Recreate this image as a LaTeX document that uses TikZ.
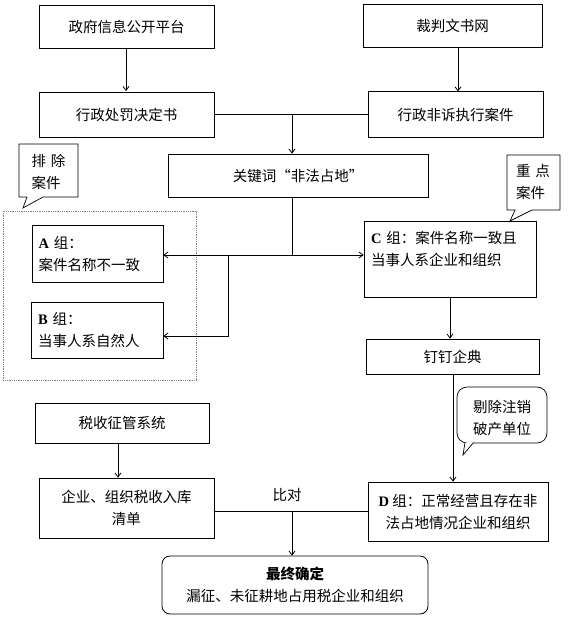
\documentclass[tikz,border=0pt]{standalone}
\usepackage{fontspec}
\setmainfont{Noto Sans CJK SC}
\newfontfamily\latf{Liberation Serif}
\usetikzlibrary{arrows.meta}
\begin{document}
\begin{tikzpicture}[x=1pt,y=-1pt,
  every node/.style={font=\fontsize{14.5}{22}\selectfont},
  box/.style={draw, line width=0.8pt, inner sep=0pt},
  lbox/.style={box, align=left},
  ln/.style={line width=0.8pt},
  arr/.style={line width=0.8pt, -{Straight Barb[length=4pt,width=6pt]}},
  callout/.style={draw, line width=0.7pt, fill=white},
  txt/.style={inner sep=0pt, align=left}]
\useasboundingbox (0,0) rectangle (568,619);

% top row
\node[box, minimum width=175pt, minimum height=43pt] (gov) at (126.5,26.5) {政府信息公开平台};
\node[box, minimum width=179pt, minimum height=43pt] (court) at (452.5,25.5) {裁判文书网};
\node[box, minimum width=175pt, minimum height=45pt] (pen) at (126.5,114.5) {行政处罚决定书};
\node[box, minimum width=175pt, minimum height=46pt] (nonlit) at (455.5,114.5) {行政非诉执行案件};
\node[box, minimum width=260pt, minimum height=43pt] (key) at (298,175.5) {关键词“非法占地”};

% excluded group
\draw[gray, densely dotted, line width=0.8pt] (3,211) rectangle (196,380);
\node[lbox, minimum width=131pt, minimum height=57pt, text width=118pt] (A) at (97.5,253.5) {{\latf\bfseries A} 组：\\案件名称不一致};
\node[lbox, minimum width=132pt, minimum height=56pt, text width=118pt] (B) at (97,330) {{\latf\bfseries B} 组：\\当事人系自然人};

% group C
\node[lbox, minimum width=172pt, minimum height=76pt, text width=158pt] (C) at (450,259) {{\latf\bfseries C} 组：案件名称一致且\\当事人系企业和组织\\~};
\node[box, minimum width=173pt, minimum height=35pt] (ding) at (452.5,356.5) {钉钉企典};
\node[box, align=center, minimum width=180pt, minimum height=59pt] (D) at (458,511.5) {{\latf\bfseries D} 组：正常经营且存在非\\法占地情况企业和组织};

% tax
\node[box, minimum width=174pt, minimum height=40pt] (tax) at (122,423) {税收征管系统};
\node[box, align=center, minimum width=175pt, minimum height=60pt] (list) at (126.5,508) {企业、组织税收入库\\清单};

% final
\node[box, rounded corners=8pt, align=center, minimum width=266pt, minimum height=58pt] (final) at (295,585) {{\bfseries 最终确定}\\漏征、未征耕地占用税企业和组织};

% callouts
\draw[callout] (19,144) -- (78,144) -- (78,197) -- (43,197) -- (23,208) -- (27,197) -- (19,197) -- cycle;
\node[txt] (ex) at (48.5,172) {排\,\,除\\案件};
\draw[callout] (507,155) -- (560,155) -- (560,210) -- (532,210) -- (510,221) -- (515,210) -- (507,210) -- cycle;
\node[txt] (keyc) at (533,182) {重\,\,点\\案件};
\draw[callout, rounded corners=10pt] (473,443) -- (547,443) -- (547,387) -- (457,387) -- (457,443) -- (465.5,443);
\draw[callout] (465,442.6) -- (463,455) -- (473.5,442.6);
\node[txt] (rm) at (502,418) {剔除注销\\破产单位};

% connectors
\draw[arr] (gov.south -| 126,0) -- (126,91);
\draw[arr] (458,47) -- (458,91.5);
\coordinate (j1) at (292,114.5);
\draw[ln] (pen.east) -- (nonlit.west);
\draw[arr] (j1) -- (j1 |- key.north);
\coordinate (j2) at (292,255);
\coordinate (j3) at (228,255);
\coordinate (j4) at (228,336);
\draw[ln] (j1 |- key.south) -- (j2);
\draw[arr] (j2) -- (j2 -| C.west);
\draw[arr] (j2) -- (j2 -| A.east);
\draw[arr] (j3) -- (j4) -- (j4 -| B.east);
\draw[arr] (C.south) -- (C.south |- ding.north);
\coordinate (j5) at (453,374);
\draw[arr] (j5) -- (j5 |- D.north);
\coordinate (j6) at (118,443);
\draw[arr] (j6) -- (j6 |- list.north);
\coordinate (j7) at (292,511.5);
\draw[ln] (list.east |- j7) -- (D.west |- j7);
\draw[arr] (j7) -- (j7 |- final.north);
\node (cmp) at (287,495) {比对};
\end{tikzpicture}
\end{document}
